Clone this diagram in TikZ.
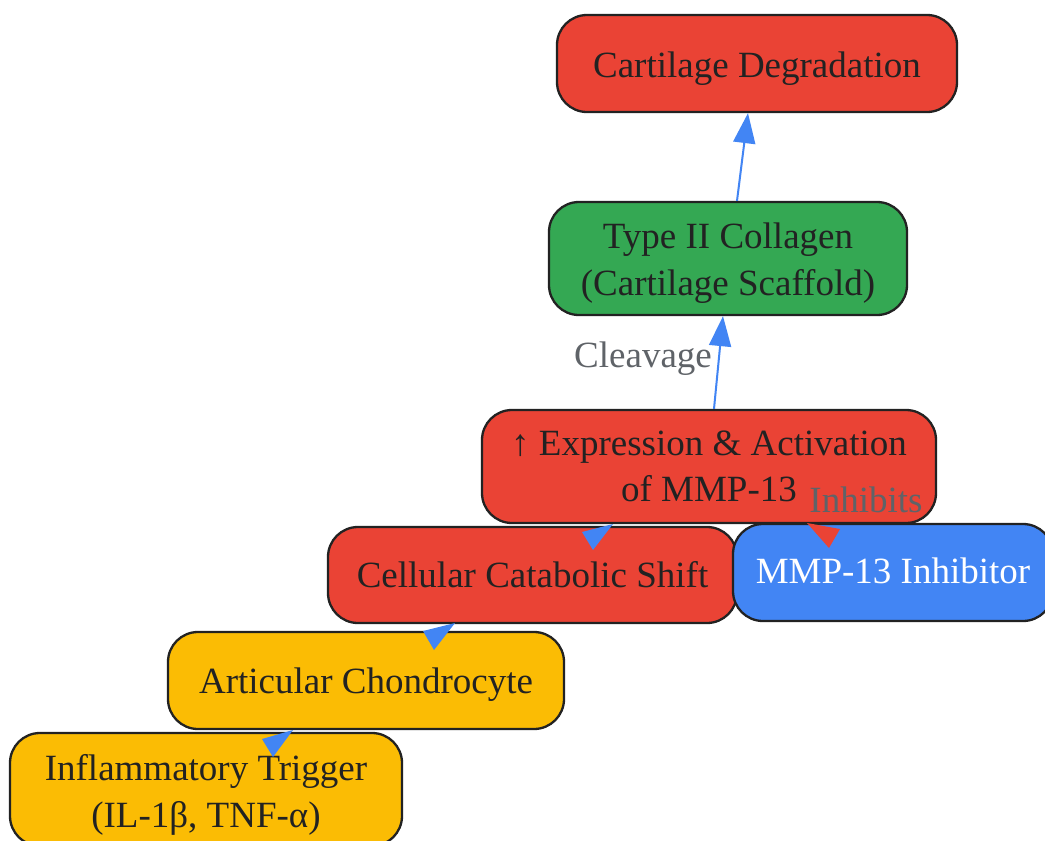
\documentclass[tikz,border=0pt]{standalone}
\usepackage{fontspec}
\setmainfont{Liberation Serif}
\usetikzlibrary{arrows.meta}
\definecolor{gred}{HTML}{EA4335}
\definecolor{ggreen}{HTML}{34A853}
\definecolor{gblue}{HTML}{4285F4}
\definecolor{gyellow}{HTML}{FBBC04}
\definecolor{tdark}{HTML}{222222}
\definecolor{lgray}{HTML}{5F6368}
\tikzset{
  box/.style={draw=tdark, line width=2.3pt, rounded corners=30pt, inner sep=0pt, rectangle},
  txt/.style={font=\fontsize{37}{46}\selectfont, text=tdark, anchor=base, inner sep=0pt},
  lbl/.style={font=\fontsize{37}{46}\selectfont, text=lgray, anchor=base, inner sep=0pt},
  flow/.style={draw=gblue, line width=2pt, -{Triangle[length=30pt,width=22pt]}},
}
\begin{document}
\begin{tikzpicture}[x=1pt,y=-1pt]
\clip (0,0) rectangle (1045,841);
\fill[white] (0,0) rectangle (1045,841);
% boxes
\node[box, fill=gred, minimum width=400pt, minimum height=97pt] (deg) at (757,63.5) {};
\node[box, fill=ggreen, minimum width=358pt, minimum height=113pt] (col) at (728,258.5) {};
\node[box, fill=gred, minimum width=454pt, minimum height=113pt] (exp) at (709,466.5) {};
\node[box, fill=gred, minimum width=409pt, minimum height=96pt] (cat) at (532.5,575) {};
\node[box, fill=gblue, minimum width=320pt, minimum height=97pt] (inh) at (893,572.5) {};
\node[box, fill=gyellow, minimum width=396pt, minimum height=97pt] (cho) at (366,680.5) {};
\node[box, fill=gyellow, minimum width=392pt, minimum height=113pt] (trig) at (206,789.5) {};
% texts
\node[txt] (tdeg) at ([yshift=-13.5pt]deg.center) {Cartilage Degradation};
\node[txt] (tcol1) at ([yshift=10.5pt]col.center) {Type II Collagen};
\node[txt] (tcol2) at ([yshift=-36.5pt]col.center) {(Cartilage Scaffold)};
\node[txt] (texp1) at ([yshift=11.5pt]exp.center) {↑ Expression \& Activation};
\node[txt] (texp2) at ([yshift=-34.5pt]exp.center) {of MMP-13};
\node[txt] (tcat) at ([yshift=-12pt]cat.center) {Cellular Catabolic Shift};
\node[txt, text=white] (tinh) at ([yshift=-11pt]inh.center) {MMP-13 Inhibitor};
\node[txt] (tcho) at ([yshift=-12.5pt]cho.center) {Articular Chondrocyte};
\node[txt] (ttrig1) at ([yshift=9.5pt]trig.center) {Inflammatory Trigger};
\node[txt] (ttrig2) at ([yshift=-37.5pt]trig.center) {(IL-1β, TNF-α)};
% connectors
\draw[flow] ([xshift=9pt]col.north) -- ([xshift=-9pt]deg.south);
\draw[flow] ([xshift=5pt]exp.north) -- ([xshift=-5pt]col.south);
% short overlapping arrowheads
\fill[gblue] (262,739) -- (293,730) -- (273,757) -- cycle;
\fill[gblue] (423,631) -- (455,623) -- (434,650) -- cycle;
\fill[gblue] (582,532) -- (613,524) -- (593,550) -- cycle;
\fill[gred] (807,523) -- (840,529) -- (829,548) -- cycle;
% labels
\node[lbl] (lcleave) at (643,367) {Cleavage};
\node[lbl] (linhib) at (866,512) {Inhibits};
\end{tikzpicture}
\end{document}
